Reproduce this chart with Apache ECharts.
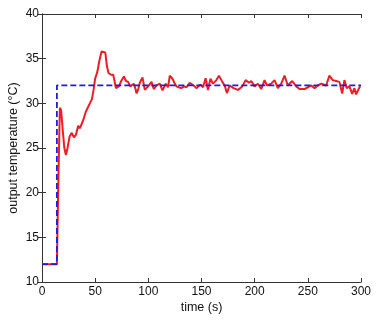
<!DOCTYPE html>
<html>
<head>
<meta charset="utf-8">
<script src="https://cdn.jsdelivr.net/npm/echarts@6/dist/echarts.min.js"></script>
<style>html,body{margin:0;padding:0;background:#fff}#c{width:380px;height:321px}</style>
</head>
<body>
<div id="c"></div>
<script>
const xTicks = [0, 50, 100, 150, 200, 250, 300];
const yTicks = [10, 15, 20, 25, 30, 35, 40];
const outputTime = [0,14,15.5,16.8,18,19.5,21,22.5,24,26,28,30,32,34,35.5,37,39,41,43,45,47,48.5,50,52,54,56,57.5,59.5,61,62.5,65,67,69.5,72.3,74.5,77,79,81,83,84.8,86.4,88.2,88.9,90.5,92,94.5,96.7,98.3,99.8,101.5,103,105.1,107.7,110.8,113.3,116.4,118.5,120.2,122.7,124.5,126.4,128.5,131.1,133.5,135.8,138.9,142.7,145.2,149,151.4,153.9,156.1,158.4,160.8,164,166.4,169.6,171.8,173.9,176.5,180.2,184.3,188.4,191.5,194.6,196.8,199.9,203,206.2,209.3,211.5,215.6,218.7,221.8,225,228.1,231.2,235.3,239.1,242.2,246.9,250,253.2,256.3,259.4,262.6,267.2,270.3,273.4,276.6,279.7,282.3,284.4,286.6,289.1,291.7,293.8,295.4,297.8,299.2];
const outputTemp = [12,12,22,29.5,29.2,27,25,24.2,25,26.3,26.7,26.2,26.5,27.5,27.2,27.6,28.2,29,29.5,30,30.5,31.5,32.8,33.5,34.8,35.8,35.9,35.7,34.2,33.4,33.2,33.2,31.7,31.9,32.5,33.0,32.5,32.4,31.9,31.7,32.2,31.5,31.1,31.6,32.3,32.9,31.5,31.7,31.9,32.1,32.4,31.6,32.0,32.2,31.45,32.2,31.8,33.1,32.75,32.3,31.9,31.8,31.7,31.9,31.8,32.3,32.0,31.7,32.1,31.8,32.8,31.5,32.75,32.2,32.6,33.1,32.4,32.0,31.15,32.0,31.7,31.5,31.9,32.6,32.3,32.5,31.9,32.2,31.6,32.6,32.0,32.2,32.6,31.7,32.2,33.1,32.0,32.5,31.9,31.6,31.6,31.8,32.0,31.7,32.0,32.2,32.0,33.1,32.6,32.5,32.4,31.1,32.6,31.7,31.9,31.05,31.7,31.0,31.6,31.9];
const setTime = [0, 14, 14, 300];
const setTemp = [12, 12, 32, 32];

const outputData = outputTime.map((t, i) => [t, outputTemp[i]]);
const setData = setTime.map((t, i) => [t, setTemp[i]]);

const chart = echarts.init(document.getElementById('c'), null, {renderer: 'canvas'});
const font = 'Liberation Sans, Arial, sans-serif';
const axisLine = {show: true, lineStyle: {color: '#333', width: 1}};
const tickIn = {show: true, inside: true, length: 4, lineStyle: {color: '#333'}};
chart.setOption({
  animation: false,
  grid: {left: 42, top: 14, width: 319, height: 268, containLabel: false, outerBoundsMode: 'none'},
  xAxis: [{
    type: 'value', min: 0, max: 300, interval: 50, position: 'bottom',
    axisLine: axisLine, axisTick: tickIn, splitLine: {show: false},
    axisLabel: {color: '#111', fontSize: 12, fontFamily: font, margin: 4},
    name: 'time (s)', nameLocation: 'middle', nameGap: 19, nameMoveOverlap: false,
    nameTextStyle: {color: '#111', fontSize: 12.5, fontFamily: font}
  }, {
    type: 'value', min: 0, max: 300, interval: 50, position: 'top',
    axisLine: axisLine, axisTick: tickIn, splitLine: {show: false}, axisLabel: {show: false}
  }],
  yAxis: [{
    type: 'value', min: 10, max: 40, interval: 5, position: 'left',
    axisLine: axisLine, axisTick: tickIn, splitLine: {show: false},
    axisLabel: {color: '#111', fontSize: 12, fontFamily: font, margin: 3},
    name: 'output temperature (°C)', nameLocation: 'middle', nameGap: 22, nameRotate: 90, nameMoveOverlap: false,
    nameTextStyle: {color: '#111', fontSize: 12.5, fontFamily: font}
  }, {
    type: 'value', min: 10, max: 40, interval: 5, position: 'right',
    axisLine: axisLine, axisTick: tickIn, splitLine: {show: false}, axisLabel: {show: false}
  }],
  series: [{
    type: 'line', data: outputData, showSymbol: false, symbol: 'none',
    lineStyle: {color: '#ee1c24', width: 2}, z: 2
  }, {
    type: 'line', data: setData, showSymbol: false, symbol: 'none',
    lineStyle: {color: '#1f1fd6', width: 1.8, type: [6, 3]}, z: 3
  }]
});
</script>
</body>
</html>
